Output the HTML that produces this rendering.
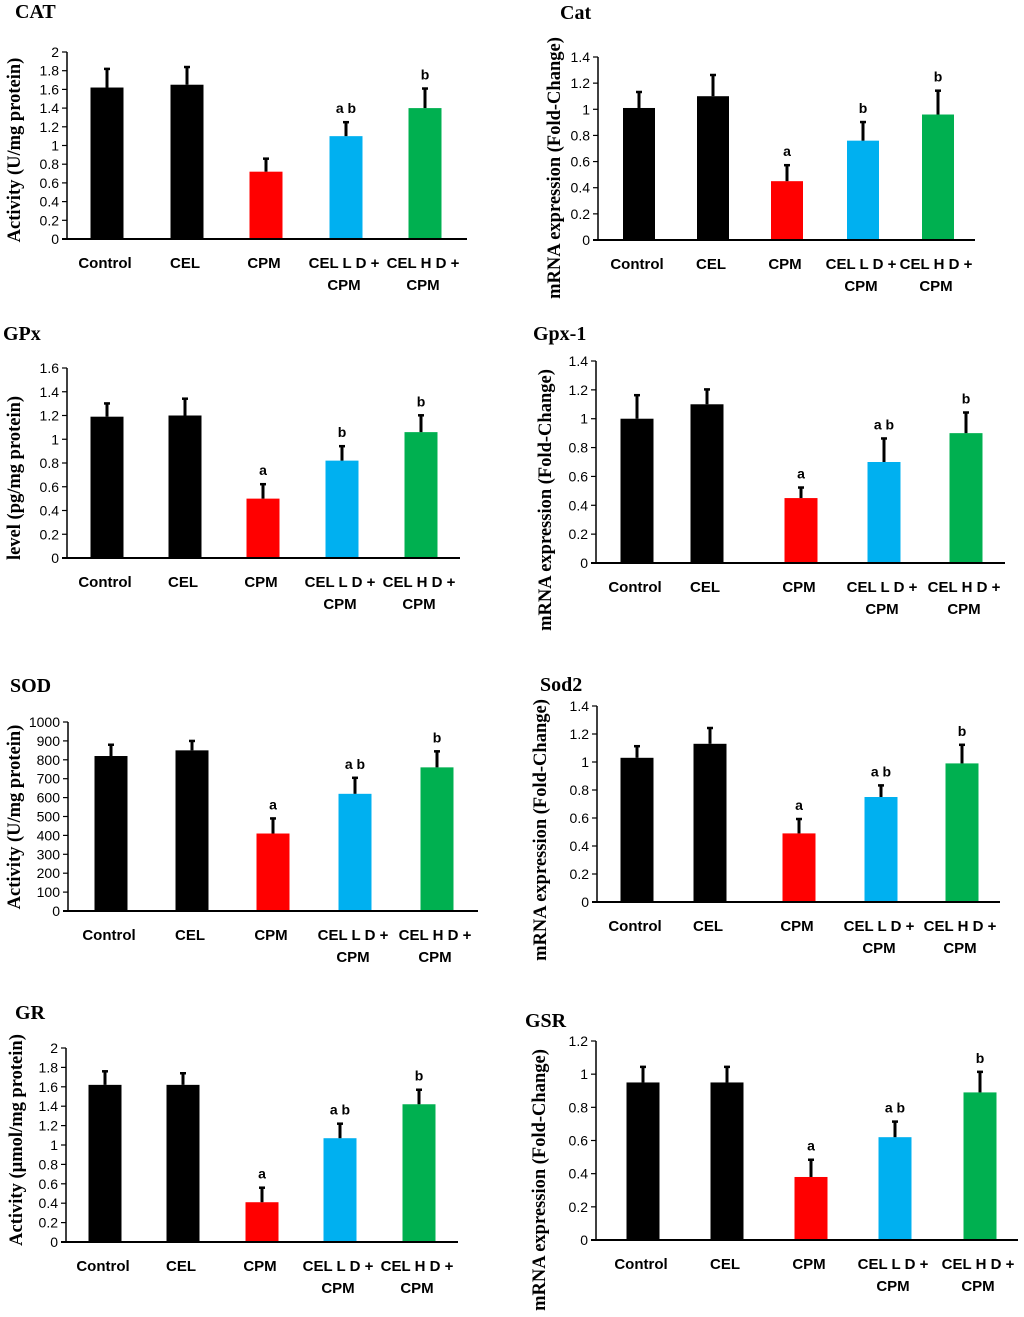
<!DOCTYPE html>
<html><head><meta charset="utf-8">
<style>
html,body{margin:0;padding:0;background:#fff;}
svg{display:block;}
.tick{font-family:"Liberation Sans",sans-serif;font-size:14px;fill:#000;}
.xl{font-family:"Liberation Sans",sans-serif;font-size:15px;font-weight:bold;fill:#000;}
.yt{font-family:"Liberation Serif",serif;font-size:18.5px;font-weight:bold;fill:#000;}
.pt{font-family:"Liberation Serif",serif;font-size:20px;font-weight:bold;fill:#000;}
.sig{font-family:"Liberation Sans",sans-serif;font-size:14px;font-weight:bold;fill:#000;}
</style></head>
<body>
<svg id="fig" width="1024" height="1317" viewBox="0 0 1024 1317" xmlns="http://www.w3.org/2000/svg"></svg>
<script>
const categories = [["Control"],["CEL"],["CPM"],["CEL L D +","CPM"],["CEL H D +","CPM"]];
const barColors = ["#000000","#000000","#ff0000","#00b0f0","#00b050"];

const catValues = [1.62,1.65,0.72,1.10,1.40];
const catErrors = [1.83,1.85,0.87,1.26,1.62];
const catSig = ["","","","a b","b"];
const catTicks = ["0","0.2","0.4","0.6","0.8","1","1.2","1.4","1.6","1.8","2"];

const catGeneValues = [1.01,1.10,0.45,0.76,0.96];
const catGeneErrors = [1.14,1.27,0.58,0.91,1.15];
const catGeneSig = ["","","a","b","b"];
const fold14Ticks = ["0","0.2","0.4","0.6","0.8","1","1.2","1.4"];

const gpxValues = [1.19,1.20,0.50,0.82,1.06];
const gpxErrors = [1.31,1.35,0.63,0.95,1.21];
const gpxSig = ["","","a","b","b"];
const gpxTicks = ["0","0.2","0.4","0.6","0.8","1","1.2","1.4","1.6"];

const gpx1Values = [1.00,1.10,0.45,0.70,0.90];
const gpx1Errors = [1.17,1.21,0.53,0.87,1.05];
const gpx1Sig = ["","","a","a b","b"];

const sodValues = [820,850,410,620,760];
const sodErrors = [885,905,495,710,850];
const sodSig = ["","","a","a b","b"];
const sodTicks = ["0","100","200","300","400","500","600","700","800","900","1000"];

const sod2Values = [1.03,1.13,0.49,0.75,0.99];
const sod2Errors = [1.12,1.25,0.60,0.84,1.13];
const sod2Sig = ["","","a","a b","b"];

const grValues = [1.62,1.62,0.41,1.07,1.42];
const grErrors = [1.77,1.75,0.57,1.23,1.58];
const grSig = ["","","a","a b","b"];

const gsrValues = [0.95,0.95,0.38,0.62,0.89];
const gsrErrors = [1.05,1.05,0.49,0.72,1.02];
const gsrSig = ["","","a","a b","b"];
const gsrTicks = ["0","0.2","0.4","0.6","0.8","1","1.2"];

const panels = [
 {id:"cat",title:"CAT",tx:15,ty:18,ax:67,top:52,bot:239,xend:467,centers:[107,187,266,346,425],bw:33,vals:catValues,errs:catErrors,sig:catSig,ticks:catTicks,ytitle:"Activity (U/mg protein)",ytx:20,yty:150,xly:263},
 {id:"cat-gene",title:"Cat",tx:560,ty:19,ax:598,top:57,bot:240,xend:975,centers:[639,713,787,863,938],bw:32,vals:catGeneValues,errs:catGeneErrors,sig:catGeneSig,ticks:fold14Ticks,ytitle:"mRNA expression (Fold-Change)",ytx:560,yty:168,xly:264},
 {id:"gpx",title:"GPx",tx:3,ty:340,ax:67,top:368,bot:558,xend:460,centers:[107,185,263,342,421],bw:33,vals:gpxValues,errs:gpxErrors,sig:gpxSig,ticks:gpxTicks,ytitle:"level (pg/mg protein)",ytx:20,yty:478,xly:582},
 {id:"gpx1",title:"Gpx-1",tx:533,ty:340,ax:596,top:361,bot:563,xend:1005,centers:[637,707,801,884,966],bw:33,vals:gpx1Values,errs:gpx1Errors,sig:gpx1Sig,ticks:fold14Ticks,ytitle:"mRNA expression (Fold-Change)",ytx:551,yty:500,xly:587},
 {id:"sod",title:"SOD",tx:10,ty:692,ax:68,top:722,bot:911,xend:478,centers:[111,192,273,355,437],bw:33,vals:sodValues,errs:sodErrors,sig:sodSig,ticks:sodTicks,ytitle:"Activity (U/mg protein)",ytx:20,yty:817,xly:935},
 {id:"sod2",title:"Sod2",tx:540,ty:691,ax:597,top:706,bot:902,xend:1000,centers:[637,710,799,881,962],bw:33,vals:sod2Values,errs:sod2Errors,sig:sod2Sig,ticks:fold14Ticks,ytitle:"mRNA expression (Fold-Change)",ytx:546,yty:830,xly:926},
 {id:"gr",title:"GR",tx:15,ty:1019,ax:66,top:1048,bot:1242,xend:458,centers:[105,183,262,340,419],bw:33,vals:grValues,errs:grErrors,sig:grSig,ticks:catTicks,ytitle:"Activity  (µmol/mg protein)",ytx:22,yty:1140,xly:1266},
 {id:"gsr",title:"GSR",tx:525,ty:1027,ax:596,top:1041,bot:1240,xend:1018,centers:[643,727,811,895,980],bw:33,vals:gsrValues,errs:gsrErrors,sig:gsrSig,ticks:gsrTicks,ytitle:"mRNA expression (Fold-Change)",ytx:545,yty:1180,xly:1264}
];

const NS="http://www.w3.org/2000/svg";
const svg=document.getElementById("fig");
function mk(tag,attrs,parent){const e=document.createElementNS(NS,tag);for(const k in attrs)e.setAttribute(k,attrs[k]);(parent||svg).appendChild(e);return e;}

panels.forEach(p=>{
  const g=mk("g",{});
  
  
  const maxV=parseFloat(p.ticks[p.ticks.length-1]);
  const y=v=>p.bot-(v/maxV)*(p.bot-p.top);
  const t=mk("text",{x:p.tx,y:p.ty,class:"pt"},g);t.textContent=p.title;
  
  
  const yt=mk("text",{x:p.ytx,y:p.yty,class:"yt","text-anchor":"middle",transform:"rotate(-90 "+p.ytx+" "+p.yty+")"},g);
  yt.textContent=p.ytitle;
  
  
  p.vals.forEach((v,i)=>{
    const cx=p.centers[i];
    const r=mk("rect",{x:cx-p.bw/2,y:y(v),width:p.bw,height:p.bot-y(v),fill:barColors[i]},g);
    
    
    const e=mk("line",{x1:cx,x2:cx,y1:y(v),y2:y(p.errs[i]),stroke:"#000","stroke-width":3},g);
    
    
    mk("line",{x1:cx-3,x2:cx+3,y1:y(p.errs[i])+1,y2:y(p.errs[i])+1,stroke:"#000","stroke-width":2.5},g);
    if(p.sig[i]){
      const s=mk("text",{x:cx,y:y(p.errs[i])-8,class:"sig","text-anchor":"middle"},g);
      s.textContent=p.sig[i];
      
      
    }
    categories[i].forEach((ln,j)=>{
      const xl=mk("text",{x:cx-2,y:p.xly+5+j*22,class:"xl","text-anchor":"middle"},g);
      xl.textContent=ln;
      
      
    });
  });
  const ya=mk("line",{x1:p.ax,x2:p.ax,y1:p.top,y2:p.bot,stroke:"#000","stroke-width":1.5},g);
  
  
  const xa=mk("line",{x1:p.ax-5,x2:p.xend,y1:p.bot,y2:p.bot,stroke:"#000","stroke-width":2},g);
  
  
  p.ticks.forEach(tk=>{
    const yy=y(parseFloat(tk));
    mk("line",{x1:p.ax-5,x2:p.ax,y1:yy,y2:yy,stroke:"#000","stroke-width":1.2},g);
    const tl=mk("text",{x:p.ax-8,y:yy+5,class:"tick","text-anchor":"end"},g);
    tl.textContent=tk;
    
    
  });
});
</script>
</body></html>
